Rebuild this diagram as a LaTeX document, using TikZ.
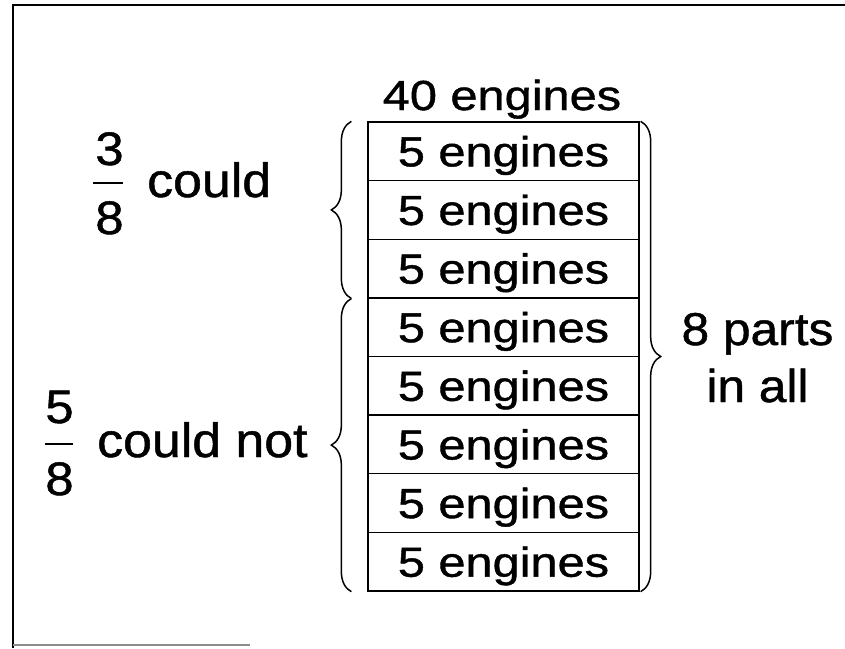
\documentclass[tikz,border=0pt]{standalone}
\usepackage{fontspec}
\setmainfont{Liberation Sans}
\newfontfamily\tabf[FakeStretch=1.16,FakeBold=1]{Liberation Sans}
\newfontfamily\labf[FakeStretch=1.08,FakeBold=1]{Liberation Sans}
\usetikzlibrary{decorations.pathreplacing}
\begin{document}
\begin{tikzpicture}[x=1pt,y=-1pt,
  rowbox/.style={draw,line width=1.3pt,minimum width=271pt,minimum height=58.625pt,
    inner sep=0pt,text height=30pt,text depth=0pt,font=\tabf\fontsize{42}{50}\selectfont},
  tabtext/.style={inner sep=0pt,font=\tabf\fontsize{42}{50}\selectfont},
  labtext/.style={inner sep=0pt,font=\labf\fontsize{48}{57}\selectfont},
  digit/.style={inner sep=0pt,font=\labf\fontsize{47}{57}\selectfont},
  righttext/.style={inner sep=0pt,align=center,font=\labf\fontsize{46}{57}\selectfont},
  bracestyle/.style={decorate,decoration={brace,amplitude=20pt},line width=1.5pt},
  frameline/.style={line width=2pt}]
\useasboundingbox (0,0) rectangle (845,648);
% frame
\coordinate (fTL) at (13,5);
\coordinate (fTR) at (845,5);
\coordinate (fBL) at (13,648);
\coordinate (fB) at (13,645);
\coordinate (fBR) at (250,645);
\draw[frameline] (fBL) -- (fTL) -- (fTR);
\draw[line width=1.5pt,black!45] (fB) -- (fBR);
% title
\node[tabtext,anchor=base] (total) at (502,110) {40 engines};
% table rows
\foreach \i in {1,...,8}{
  \node[rowbox] (r\i) at (503.5,{122+29.3125+(\i-1)*58.625}) {5 engines};
}
% braces
\coordinate (b1s) at ([xshift=-16pt]r3.south west);
\coordinate (b1e) at ([xshift=-16pt]r1.north west);
\draw[bracestyle] (b1s) -- (b1e);
\coordinate (b2s) at ([xshift=-16pt]r8.south west);
\draw[bracestyle] (b2s) -- (b1s);
\coordinate (b3s) at ([xshift=1pt]r1.north east);
\coordinate (b3e) at ([xshift=1pt]r8.south east);
\draw[bracestyle] (b3s) -- (b3e);
% left labels: 3/8 could
\node[digit,anchor=base] (n3) at (109.5,165) {3};
\node[digit,anchor=base] (d8a) at (109.5,234) {8};
\coordinate (bar1a) at (93,183);
\coordinate (bar1b) at (123,183);
\draw[line width=1.6pt] (bar1a) -- (bar1b);
\node[labtext,anchor=base west] (could) at (147,197) {could};
% 5/8 could not
\node[digit,anchor=base] (n5) at (59.5,423) {5};
\node[digit,anchor=base] (d8b) at (59.5,495) {8};
\coordinate (bar2a) at (45,444);
\coordinate (bar2b) at (73,444);
\draw[line width=1.6pt] (bar2a) -- (bar2b);
\node[labtext,anchor=base west] (couldnot) at (97,457) {could not};
% right label
\node[righttext,anchor=base] (parts) at (757.5,402) {8 parts\\in all};
\end{tikzpicture}
\end{document}
